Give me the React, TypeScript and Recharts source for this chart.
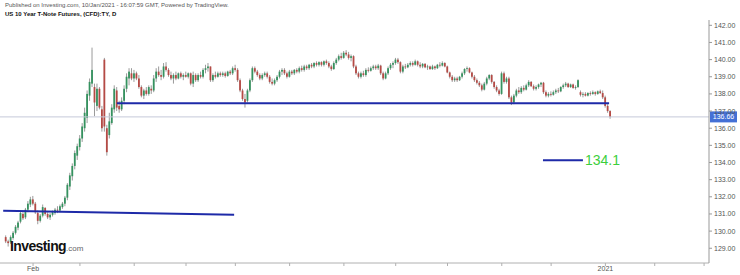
import { ComposedChart, Bar, XAxis, YAxis, ReferenceLine } from 'recharts'

// daily candles, mid-Jan 2020 .. early Jan 2021 (index = trading day)
const opens = [
  129.65, 129.4, 129.35, 129.6, 129.9, 130.2, 130.55, 131.0, 130.8, 131.25,
  131.55, 131.85, 131.6, 131.05, 130.6, 130.9, 131.35, 131.0, 130.8, 130.95,
  131.05, 131.25, 131.2, 131.4, 131.6, 131.95, 132.6, 133.2, 133.8, 134.4,
  134.9, 135.4, 136.0, 136.6, 137.9, 138.6, 138.4, 137.3, 138.3, 137.1,
  140.0, 136.0, 135.6, 136.3, 137.1, 138.2, 137.3, 137.1, 137.6, 138.3,
  138.9, 139.2, 138.9, 139.2, 138.9, 138.4, 137.9, 138.2, 138.0, 138.3,
  138.2, 138.9, 139.3, 139.1, 139.0, 139.6, 139.4, 139.1, 138.9, 139.1,
  138.9, 139.2, 139.0, 139.1, 139.0, 139.2, 138.6, 139.1, 138.8, 139.1,
  139.0, 139.4, 139.5, 139.6, 138.8, 139.1, 139.0, 139.2, 139.1, 139.2,
  139.05, 139.3, 139.2, 139.5, 139.4, 138.8, 138.2, 137.7, 137.6, 138.2,
  138.8, 139.5, 139.3, 139.1, 138.9, 139.1, 139.2, 139.0, 138.7, 138.6,
  138.8, 139.0, 139.3, 139.4, 139.2, 139.0, 139.3, 139.2, 139.4, 139.3,
  139.5, 139.4, 139.6, 139.5, 139.7, 139.6, 139.8, 139.7, 139.85, 139.7,
  139.9, 139.8, 139.6, 139.45, 139.8, 140.0, 140.2, 140.1, 140.4, 140.3,
  140.1, 140.2, 139.6, 139.2, 139.0, 139.2, 139.1, 139.4, 139.35, 139.5,
  139.6, 139.5, 139.65, 139.2, 138.9, 139.2, 139.5, 139.7, 139.8, 140.0,
  139.85, 139.3, 139.6, 139.55, 139.7, 139.8, 139.7, 139.9, 139.7, 139.6,
  139.75, 139.55, 139.6, 139.45, 139.6, 139.5, 139.7, 139.65, 139.8, 139.6,
  139.25, 139.0, 138.8, 138.9, 138.8, 139.0, 139.2, 139.45, 139.5, 139.25,
  139.0, 138.8, 138.65, 138.5, 138.25, 138.6, 138.9, 139.1, 138.7, 138.4,
  138.2, 138.0, 139.2, 138.7, 138.9, 137.8, 137.5, 137.9, 138.2, 138.1,
  138.35, 138.25, 138.5, 138.7, 138.45, 138.3, 138.4, 138.55, 138.65, 138.1,
  137.9, 138.0, 137.95, 138.1, 138.2, 138.15, 138.4, 138.5, 138.6, 138.4,
  138.55, 138.35, 138.4, 138.1, 137.95, 138.0, 137.9, 138.05, 138.0, 138.1,
  138.0, 138.15, 138.05, 137.8, 137.3, 137.0,
]
const highs = [
  129.75, 129.5, 129.75, 130.0, 130.35, 130.6, 131.15, 131.1, 131.35, 131.75,
  132.0, 132.05, 131.7, 131.2, 131.0, 131.55, 131.4, 131.1, 131.05, 131.2,
  131.35, 131.45, 131.55, 131.7, 132.05, 132.8, 133.4, 133.95, 134.7, 135.1,
  135.6, 136.3, 137.2, 138.2, 138.9, 140.7, 138.6, 138.6, 138.4, 137.3,
  140.1, 136.2, 136.9, 137.4, 138.5, 138.4, 137.6, 137.8, 138.5, 139.2,
  139.5, 139.5, 139.4, 139.3, 139.1, 138.5, 138.3, 138.4, 138.5, 138.5,
  139.1, 139.5, 139.6, 139.4, 139.8, 139.85, 139.5, 139.3, 139.2, 139.3,
  139.25, 139.3, 139.2, 139.3, 139.25, 139.25, 139.3, 139.2, 139.2, 139.3,
  139.5, 139.7, 139.8, 139.6, 139.2, 139.3, 139.3, 139.3, 139.3, 139.3,
  139.35, 139.4, 139.6, 139.7, 139.5, 138.9, 138.3, 138.0, 138.3, 138.9,
  139.6, 139.6, 139.4, 139.2, 139.2, 139.3, 139.3, 139.1, 138.9, 138.9,
  139.1, 139.4, 139.5, 139.5, 139.3, 139.4, 139.4, 139.45, 139.5, 139.6,
  139.65, 139.7, 139.7, 139.75, 139.8, 139.85, 139.9, 139.9, 139.9, 139.95,
  140.0, 139.9, 139.7, 139.9, 140.1, 140.3, 140.4, 140.5, 140.55, 140.45,
  140.3, 140.25, 139.7, 139.3, 139.3, 139.35, 139.5, 139.55, 139.6, 139.7,
  139.7, 139.75, 139.7, 139.3, 139.3, 139.6, 139.8, 139.9, 140.1, 140.1,
  139.9, 139.7, 139.75, 139.8, 139.9, 139.9, 140.0, 139.95, 139.85, 139.8,
  139.8, 139.7, 139.65, 139.7, 139.65, 139.75, 139.85, 139.9, 139.85, 139.65,
  139.3, 139.1, 139.0, 139.0, 139.05, 139.3, 139.5, 139.6, 139.55, 139.3,
  139.1, 138.9, 138.75, 138.6, 138.7, 139.0, 139.15, 139.15, 138.75, 138.5,
  138.3, 139.3, 139.3, 139.0, 139.0, 137.9, 138.0, 138.3, 138.4, 138.45,
  138.5, 138.6, 138.8, 138.75, 138.55, 138.5, 138.6, 138.7, 138.7, 138.2,
  138.1, 138.15, 138.2, 138.3, 138.35, 138.45, 138.6, 138.7, 138.65, 138.6,
  138.6, 138.5, 138.85, 138.2, 138.1, 138.1, 138.1, 138.15, 138.2, 138.15,
  138.2, 138.25, 138.2, 137.9, 137.4, 137.05,
]
const lows = [
  129.3, 129.1, 129.25, 129.5, 129.8, 130.05, 130.45, 130.65, 130.7, 131.1,
  131.4, 131.5, 131.0, 130.4, 130.5, 130.8, 130.9, 130.7, 130.65, 130.85,
  130.95, 131.05, 131.1, 131.3, 131.45, 131.8, 132.4, 132.95, 133.6, 134.15,
  134.7, 135.2, 135.8, 136.3, 137.6, 138.4, 136.7, 137.0, 137.1, 135.8,
  135.8, 134.4, 135.4, 136.2, 136.9, 137.0, 136.9, 137.0, 137.4, 138.1,
  138.5, 138.8, 138.7, 138.8, 138.3, 137.8, 137.7, 137.9, 137.9, 138.0,
  138.1, 138.7, 139.0, 138.8, 138.9, 139.3, 139.0, 138.8, 138.6, 138.8,
  138.85, 138.9, 138.8, 138.95, 138.9, 138.5, 138.4, 138.7, 138.7, 138.9,
  138.9, 139.2, 139.3, 138.7, 138.7, 138.9, 138.95, 139.0, 139.0, 138.95,
  139.0, 139.1, 139.1, 139.3, 138.7, 138.1, 137.6, 137.2, 137.5, 138.1,
  138.7, 139.2, 139.0, 138.8, 138.8, 139.0, 138.9, 138.6, 138.5, 138.5,
  138.7, 138.9, 139.1, 139.1, 138.9, 138.95, 139.1, 139.1, 139.2, 139.2,
  139.3, 139.3, 139.4, 139.4, 139.5, 139.5, 139.6, 139.6, 139.6, 139.6,
  139.7, 139.5, 139.35, 139.4, 139.7, 139.9, 140.0, 140.05, 140.2, 140.0,
  139.9, 139.5, 139.1, 138.9, 138.9, 139.0, 139.0, 139.25, 139.3, 139.4,
  139.4, 139.4, 139.1, 138.8, 138.85, 139.1, 139.4, 139.5, 139.7, 139.75,
  139.2, 139.2, 139.45, 139.5, 139.6, 139.6, 139.65, 139.6, 139.5, 139.5,
  139.5, 139.4, 139.4, 139.4, 139.4, 139.45, 139.55, 139.6, 139.55, 139.2,
  138.9, 138.7, 138.7, 138.7, 138.75, 138.9, 139.1, 139.3, 139.2, 138.9,
  138.7, 138.55, 138.4, 138.15, 138.2, 138.5, 138.8, 138.6, 138.3, 138.1,
  137.9, 137.95, 138.6, 138.6, 137.7, 137.35, 137.4, 137.8, 138.0, 138.0,
  138.15, 138.2, 138.4, 138.4, 138.2, 138.2, 138.3, 138.4, 138.0, 137.8,
  137.8, 137.85, 137.9, 138.0, 138.05, 138.1, 138.3, 138.4, 138.35, 138.35,
  138.3, 138.25, 138.35, 137.85, 137.8, 137.85, 137.85, 137.9, 137.95, 137.9,
  137.95, 138.0, 137.7, 137.2, 136.9, 136.55,
]
const closes = [
  129.4, 129.3, 129.65, 129.9, 130.25, 130.5, 131.05, 130.75, 131.25, 131.6,
  131.85, 131.6, 131.1, 130.6, 130.9, 131.4, 131.0, 130.8, 130.95, 131.1,
  131.25, 131.2, 131.45, 131.6, 131.95, 132.7, 133.25, 133.8, 134.55, 134.95,
  135.4, 136.1, 136.9, 138.0, 138.7, 139.4, 137.5, 138.3, 137.2, 136.0,
  136.1, 134.6, 136.4, 137.2, 138.3, 137.2, 137.1, 137.6, 138.3, 139.0,
  139.3, 138.9, 139.2, 138.9, 138.4, 137.9, 138.2, 138.0, 138.4, 138.2,
  138.9, 139.3, 139.1, 139.0, 139.6, 139.4, 139.1, 138.9, 139.1, 138.9,
  139.2, 139.0, 139.1, 139.0, 139.2, 138.6, 139.1, 138.8, 139.1, 139.0,
  139.4, 139.5, 139.6, 138.8, 139.1, 139.0, 139.2, 139.1, 139.2, 139.05,
  139.3, 139.2, 139.5, 139.4, 138.8, 138.2, 137.7, 137.5, 138.2, 138.8,
  139.5, 139.3, 139.1, 138.9, 139.1, 139.2, 139.0, 138.7, 138.6, 138.8,
  139.0, 139.3, 139.4, 139.2, 139.0, 139.3, 139.2, 139.4, 139.3, 139.5,
  139.4, 139.6, 139.5, 139.7, 139.6, 139.8, 139.7, 139.85, 139.7, 139.9,
  139.8, 139.6, 139.45, 139.8, 140.0, 140.2, 140.1, 140.4, 140.3, 140.1,
  140.2, 139.6, 139.2, 139.0, 139.2, 139.1, 139.4, 139.35, 139.5, 139.6,
  139.5, 139.65, 139.2, 138.9, 139.2, 139.5, 139.7, 139.8, 140.0, 139.85,
  139.3, 139.6, 139.55, 139.7, 139.8, 139.7, 139.9, 139.7, 139.6, 139.75,
  139.55, 139.6, 139.45, 139.6, 139.5, 139.7, 139.65, 139.8, 139.6, 139.25,
  139.0, 138.8, 138.9, 138.8, 139.0, 139.2, 139.45, 139.5, 139.25, 139.0,
  138.8, 138.65, 138.5, 138.25, 138.6, 138.9, 139.1, 138.7, 138.4, 138.2,
  138.0, 139.2, 138.7, 138.9, 137.8, 137.5, 137.9, 138.2, 138.1, 138.35,
  138.25, 138.5, 138.7, 138.45, 138.3, 138.4, 138.55, 138.65, 138.1, 137.9,
  138.0, 137.95, 138.1, 138.2, 138.15, 138.4, 138.5, 138.6, 138.4, 138.55,
  138.35, 138.4, 138.8, 137.95, 138.0, 137.9, 138.05, 138.0, 138.1, 138.0,
  138.15, 138.05, 137.8, 137.3, 137.0, 136.66,
]

// month starts (trading-day index), only two are labelled on the original
const monthTicks = [11, 30, 52, 73, 93, 115, 137, 158, 179, 201, 221, 243, 263, 283]
const monthLabels = ['Feb', '', '', '', '', '', '', '', '', '', '', '2021', '', '']
const priceTicks = [129, 130, 131, 132, 133, 134, 135, 136, 137, 138, 139, 140, 141, 142]

const lastPrice = 136.66
const targetPrice = 134.1

// drawn lines as [index, price] end points
const lowerTrend = [[-1.1, 131.19], [92.5, 130.96]]
const supportLine = [[45, 137.45], [244.5, 137.45]]
const targetLine = [[217.7, 134.13], [233.9, 134.13]]

const GREEN = '#35925f'
const RED = '#b54a45'
const WICK = '#9a9a9a'
const BLUE = '#1e2aa8'
const FONT = '"Liberation Sans", Arial, sans-serif'

const data = closes.map((c, i) => ({
  i,
  open: opens[i],
  high: highs[i],
  low: lows[i],
  close: c,
  range: [lows[i], highs[i]],
}))

function Candle(props: any) {
  let { x, y, width, height } = props
  const { open, close, high, low } = props.payload
  if (height < 0) {
    y += height
    height = -height
  }
  const cx = x + width / 2
  const k = height / (high - low || 1)
  const top = y + (high - Math.max(open, close)) * k
  const bot = y + (high - Math.min(open, close)) * k
  return (
    <g>
      <line x1={cx} x2={cx} y1={y} y2={y + height} stroke={WICK} strokeWidth={1} />
      <rect x={cx - 0.9} y={top} width={1.8} height={Math.max(bot - top, 0.8)} fill={close >= open ? GREEN : RED} />
    </g>
  )
}

function PriceTag(props: any) {
  const vb = props.viewBox || {}
  const x = (vb.x || 0) + (vb.width || 0) + 1
  const y = vb.y || 0
  return (
    <g>
      <rect x={x} y={y - 5.5} width={27} height={11} fill="#4470d5" />
      <text x={x + 13.5} y={y + 2.5} textAnchor="middle" fontSize={7} fill="#fff" fontFamily={FONT}>
        {lastPrice.toFixed(2)}
      </text>
    </g>
  )
}

function TargetText(props: any) {
  const vb = props.viewBox || {}
  const x = (vb.x || 0) + (vb.width || 0) + 2
  const y = vb.y || 0
  return (
    <text x={x} y={y + 5} fontSize={14} fill="#3ccf3c" fontFamily={FONT}>
      {targetPrice}
    </text>
  )
}

export default function App() {
  return (
    <div style={{ position: 'absolute', left: 0, top: 0, width: 740, height: 275, background: '#fff', fontFamily: FONT }}>
      <div style={{ position: 'absolute', left: 5, top: 2, fontSize: 6, color: '#555', whiteSpace: 'nowrap' }}>
        Published on Investing.com, 10/Jan/2021 - 16:07:59 GMT, Powered by TradingView.
      </div>
      <div style={{ position: 'absolute', left: 5, top: 11, fontSize: 6, fontWeight: 'bold', color: '#111', whiteSpace: 'nowrap' }}>
        US 10 Year T-Note Futures, (CFD):TY, D
      </div>
      <ComposedChart width={740} height={275} data={data} margin={{ top: 20, right: 0, bottom: 0, left: 0 }}>
        <XAxis
          type="number"
          dataKey="i"
          domain={[-2.4, 285]}
          allowDataOverflow
          ticks={monthTicks}
          interval={0}
          tickFormatter={(v) => monthLabels[monthTicks.indexOf(v)] ?? ''}
          height={12}
          tickSize={3}
          tickMargin={0}
          stroke="#b0b0b0"
          tick={{ fontSize: 7, fill: '#555', fontFamily: FONT }}
        />
        <YAxis
          orientation="right"
          domain={[128.14, 142.31]}
          allowDataOverflow
          ticks={priceTicks}
          interval={0}
          width={31}
          tickSize={3}
          tickMargin={2}
          stroke="#999"
          tickFormatter={(v) => v.toFixed(2)}
          tick={{ fontSize: 7, fill: '#555', fontFamily: FONT, textAnchor: 'start' }}
        />
        <ReferenceLine y={lastPrice} stroke="#c5c9d9" strokeWidth={1} label={<PriceTag />} />
        <ReferenceLine
          segment={lowerTrend.map(([x, y]) => ({ x, y }))}
          stroke={BLUE}
          strokeWidth={2}
        />
        <ReferenceLine
          segment={supportLine.map(([x, y]) => ({ x, y }))}
          stroke={BLUE}
          strokeWidth={2}
        />
        <ReferenceLine
          segment={targetLine.map(([x, y]) => ({ x, y }))}
          stroke={BLUE}
          strokeWidth={2}
          label={<TargetText />}
        />
        <Bar dataKey="range" barSize={2} shape={<Candle />} isAnimationActive={false} />
      </ComposedChart>
      <div style={{ position: 'absolute', left: 10, top: 238, whiteSpace: 'nowrap', lineHeight: 1 }}>
        <span style={{ fontSize: 14, fontWeight: 'bold', color: '#111', letterSpacing: -0.6 }}>Investing</span>
        <span style={{ fontSize: 8, color: '#666' }}>.com</span>
      </div>
    </div>
  )
}
